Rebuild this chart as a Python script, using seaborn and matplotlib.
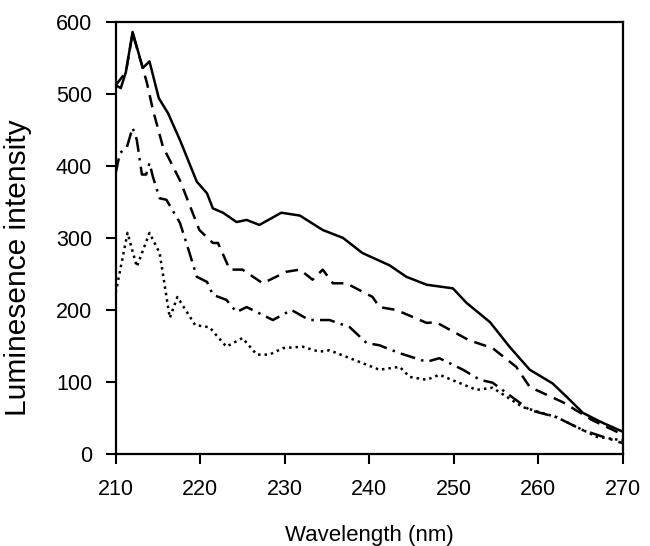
import pandas as pd
import matplotlib.pyplot as plt
import seaborn as sns

# Curves (wavelength nm, luminescence intensity)
solid_x = [210, 210.6, 211.2, 212.0, 213.2, 214.0, 215.1, 216.2, 217.6, 219.6, 220.8, 221.5, 222.7,
           224.3, 225.5, 227.0, 229.6, 231.8, 234.5, 236.9, 239.2, 242.4, 244.4, 246.8, 249.9, 251.5,
           254.3, 256.6, 259.0, 261.7, 263.4, 265.3, 267.5, 270]
solid_y = [512, 508, 530, 586, 536, 545, 494, 473, 436, 378, 362, 341, 335,
           322, 325, 318, 335, 331, 311, 300, 279, 262, 246, 235, 230, 210,
           183, 149, 117, 98, 79, 57, 44, 31]

dash_x = [210, 211.2, 212.0, 213.2, 213.7, 214.4, 215.6, 216.4, 217.6, 218.5, 219.9, 221.5, 222.1,
          223.5, 225.0, 227.4, 230.2, 231.8, 233.3, 234.5, 235.7, 237.3, 240.4, 241.2, 243.2, 246.8,
          247.9, 251.8, 254.6, 257.4, 259.0, 262.9, 266.4, 270]
dash_y = [512, 530, 584, 536, 515, 478, 426, 408, 380, 353, 311, 293, 293,
          256, 256, 237, 253, 256, 242, 256, 237, 237, 218, 204, 200, 182,
          183, 158, 147, 121, 93, 72, 47, 27]

dashdot_x = [210, 210.5, 211.3, 212.0, 212.5, 213.1, 213.6, 214.0, 214.4, 215.2, 216.0, 217.6, 218.5,
             219.6, 220.8, 221.5, 223.1, 224.3, 225.5, 227.4, 228.6, 230.8, 232.9, 235.3, 237.7, 239.7,
             241.2, 243.6, 246.8, 248.3, 251.1, 253.1, 254.6, 259.0, 262.2, 265.3, 270]
dashdot_y = [390, 418, 425, 453, 436, 388, 388, 404, 385, 355, 353, 321, 288,
             246, 239, 221, 214, 197, 204, 193, 186, 200, 186, 186, 176, 154,
             151, 140, 128, 133, 117, 103, 99, 61, 51, 33, 15]

dotted_x = [210, 211.4, 212.5, 214.0, 215.2, 216.4, 217.3, 219.4, 221.1, 223.1, 225.0, 226.7, 228.2,
            229.8, 232.1, 234.1, 235.3, 237.5, 241.2, 243.6, 244.8, 246.8, 248.3, 252.7, 254.6, 258.2,
            262.2, 266.9, 270]
dotted_y = [224, 307, 260, 307, 279, 189, 218, 179, 176, 149, 161, 138, 138,
            147, 149, 142, 144, 134, 117, 121, 107, 103, 110, 89, 92, 65,
            51, 24, 19]

x_ticks = [210, 220, 230, 240, 250, 260, 270]
y_ticks = [0, 100, 200, 300, 400, 500, 600]

partes = []
for nome, xs, ys in [('solid', solid_x, solid_y), ('dash', dash_x, dash_y),
                     ('dashdot', dashdot_x, dashdot_y), ('dotted', dotted_x, dotted_y)]:
    partes.append(pd.DataFrame({'wl': xs, 'lum': ys, 'curva': nome}))
df = pd.concat(partes, ignore_index=True)

sns.set_style("ticks")
plt.rcParams['font.family'] = ['Liberation Sans', 'DejaVu Sans']

fig = plt.figure(figsize=(6.5, 5.46), dpi=100)
ax = fig.add_axes([0.178, 0.1685, 0.78, 0.7915])

estilos = {'solid': '', 'dash': (5, 3), 'dashdot': (6, 2.5, 1, 2.5), 'dotted': (1, 1.6)}
sns.lineplot(data=df, x='wl', y='lum', style='curva', dashes=estilos, color='black',
             units='curva', estimator=None, sort=False, linewidth=1.8, legend=False, ax=ax)

ax.set_xlim(210, 270)
ax.set_ylim(0, 600)
ax.set_xticks(x_ticks)
ax.set_yticks(y_ticks)
ax.tick_params(axis='both', direction='out', length=7, width=1.5, labelsize=15.5, colors='black')
ax.tick_params(axis='x', pad=11)
ax.tick_params(axis='y', pad=10)
for s in ax.spines.values():
    s.set_linewidth(1.6)
    s.set_color('black')
ax.set_xlabel('Wavelength (nm)', fontsize=16, labelpad=18, color='black')
ax.set_ylabel('Luminesence intensity', fontsize=21.5, color='black')
ax.yaxis.set_label_coords(-0.166, 0.43)

plt.savefig('out.png', dpi=100)
